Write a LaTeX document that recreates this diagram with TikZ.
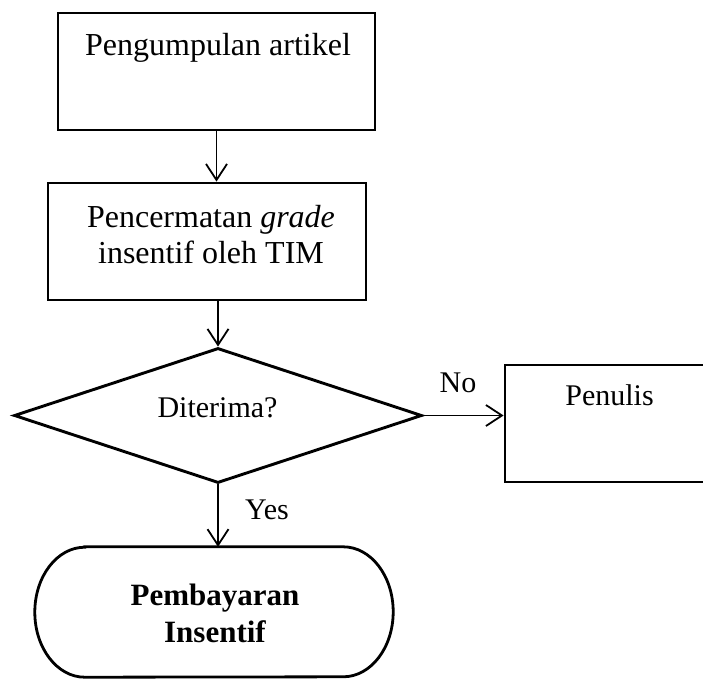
\documentclass[tikz,border=0pt]{standalone}
\usepackage{fontspec}
\setmainfont{Liberation Serif}
\usetikzlibrary{arrows.meta,shapes.geometric}
\tikzset{
  boxshape/.style={draw, line width=2.8pt, rectangle, inner sep=0pt},
  dshape/.style={draw, line width=2.9pt, diamond, inner sep=0pt},
  txt/.style={anchor=base, inner sep=0pt, font=\fontsize{30}{36}\selectfont, align=center},
  bigtxt/.style={txt, font=\fontsize{32}{36}\selectfont},
  btxt/.style={txt, font=\fontsize{31}{37}\selectfont\bfseries},
  arr/.style={line width=1.8pt, -{Straight Barb[length=16pt,width=21pt,line width=1.8pt]}},
  outline/.style={line width=2.8pt},
}
\begin{document}
\begin{tikzpicture}[x=1pt,y=1pt]
\clip (0,0) rectangle (703,-679);
\fill[white] (0,0) rectangle (703,-679);
% boxes
\node[boxshape, minimum width=317pt, minimum height=117pt] (b1) at (216.5,-71.5) {};
\node[bigtxt] (b1t) at (218,-56) {Pengumpulan artikel};
\node[boxshape, minimum width=318pt, minimum height=117pt] (b2) at (207,-241.5) {};
\node[bigtxt] (b2t) at (211,-263) {Pencermatan \textit{grade}\\insentif oleh TIM};
\node[dshape, minimum width=408pt, minimum height=135pt] (d) at (218,-415.5) {};
\node[txt] (dt) at (217.5,-417) {Diterima?};
\node[boxshape, minimum width=209pt, minimum height=117pt] (b3) at (609.5,-423.5) {};
\node[txt] (b3t) at (609.5,-405) {Penulis};
\node[minimum width=358pt, minimum height=130pt, inner sep=0pt] (term) at (214,-612) {};
\draw[outline] ([xshift=50pt]term.north west) -- ([xshift=-50pt]term.north east)
  arc[start angle=90, end angle=-90, x radius=50pt, y radius=65pt]
  -- ([xshift=50pt]term.south west)
  arc[start angle=270, end angle=90, x radius=50pt, y radius=65pt] -- cycle;
\node[btxt] (tt) at (215,-642) {Pembayaran\\Insentif};
% connectors
\draw[arr] (b1.south) -- (b1.south |- b2.north);
\draw[arr] (b2.south -| d.north) -- (d.north);
\draw[arr] (d.east) -- (d.east -| b3.west);
\draw[arr] (d.south) -- (d.south |- term.north);
% labels
\node[txt] (no) at (458,-392) {No};
\node[txt, anchor=base west] (yes) at (245,-519) {Yes};
\end{tikzpicture}
\end{document}
